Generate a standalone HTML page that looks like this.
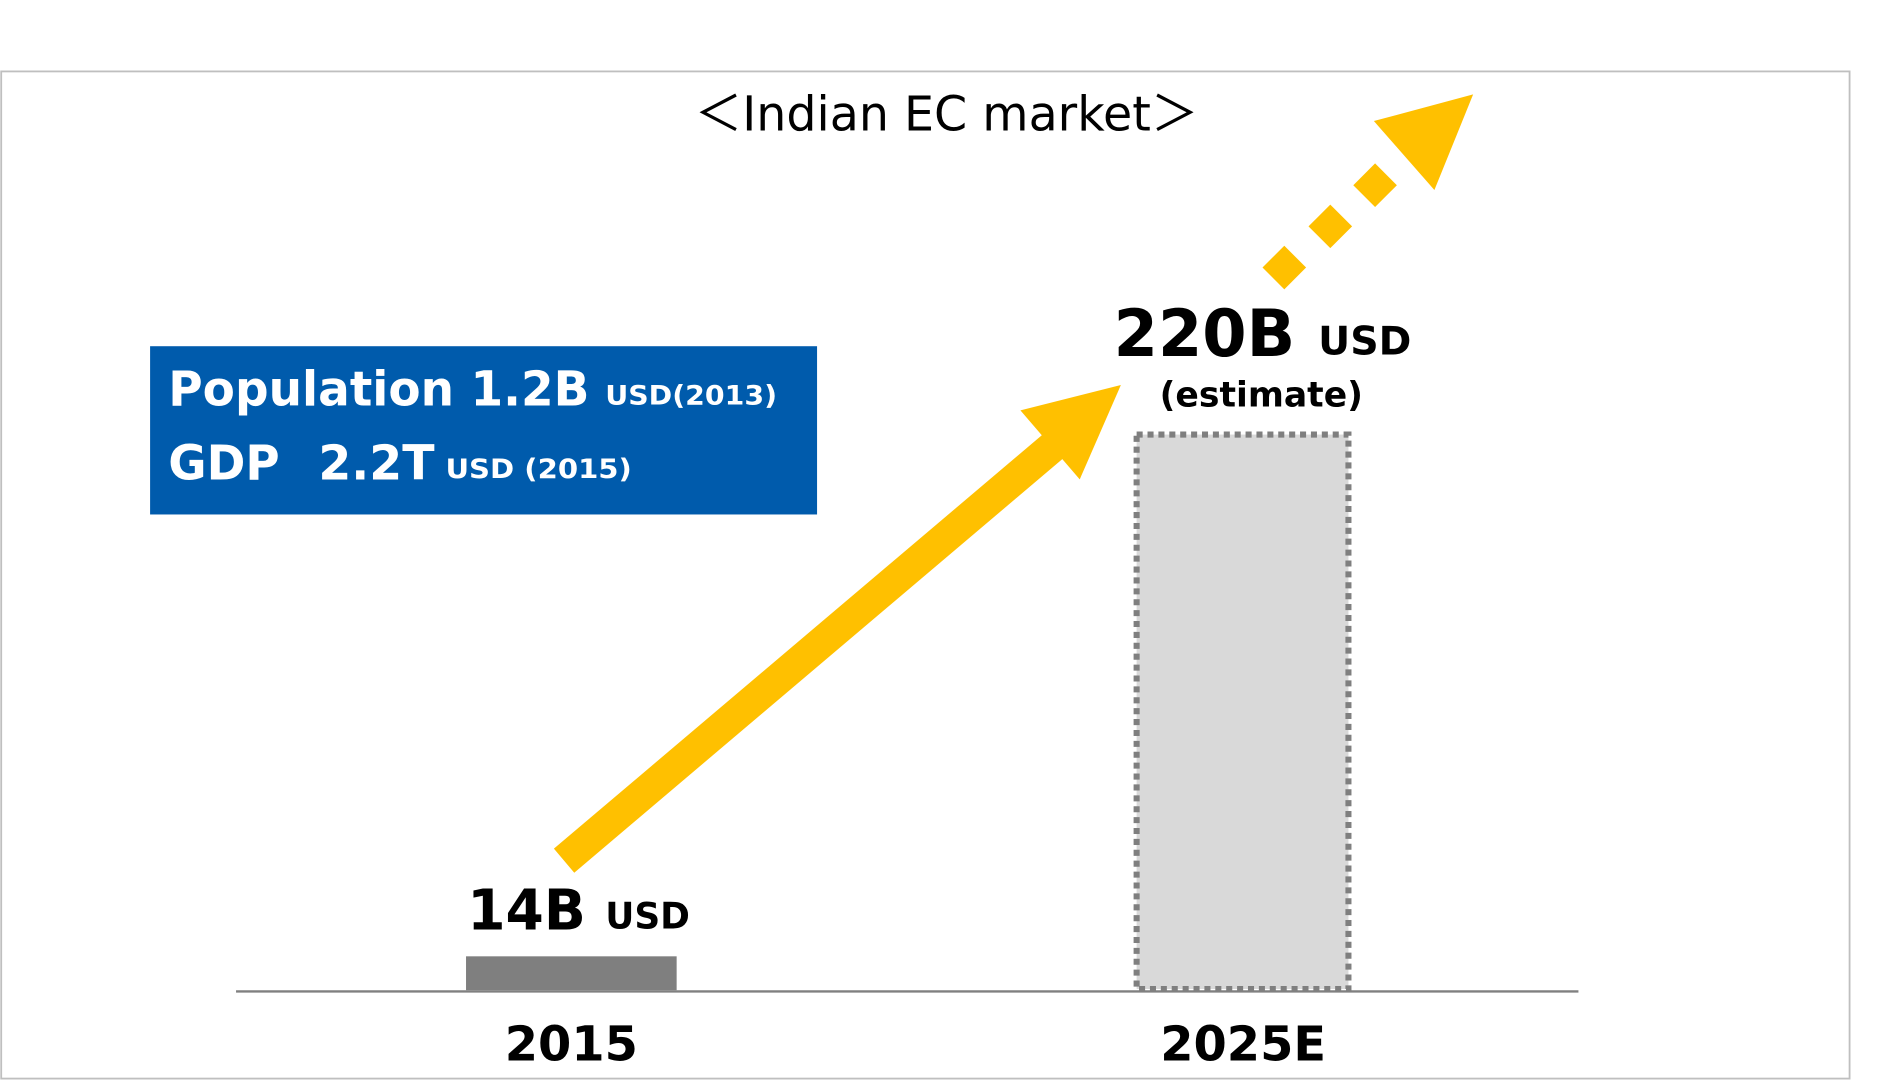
<!DOCTYPE html>
<html><head><meta charset="utf-8"><style>
html,body{margin:0;padding:0;background:#fff;}
svg{display:block;}
text{font-family:"DejaVu Sans","Liberation Sans",sans-serif;}
</style></head><body>
<svg width="1898" height="1081" viewBox="0 0 1568 893" preserveAspectRatio="none" xmlns="http://www.w3.org/2000/svg">
<rect x="1" y="59" width="1527" height="832" fill="#fff" stroke="#bfbfbf" stroke-width="1.5"/>
<text x="782" y="108" font-size="40" text-anchor="middle" fill="#000" textLength="416" lengthAdjust="spacingAndGlyphs">＜Indian EC market＞</text>
<rect x="124" y="286" width="551" height="139" fill="#005bac"/>
<text x="139" y="335" font-size="40" font-weight="bold" fill="#fff" textLength="348" lengthAdjust="spacingAndGlyphs">Population 1.2B</text>
<text x="500" y="334" font-size="22" font-weight="bold" fill="#fff" textLength="142" lengthAdjust="spacingAndGlyphs">USD(2013)</text>
<text x="139" y="396" font-size="40" font-weight="bold" fill="#fff" textLength="92" lengthAdjust="spacingAndGlyphs">GDP</text>
<text x="263" y="396" font-size="40" font-weight="bold" fill="#fff" textLength="96" lengthAdjust="spacingAndGlyphs">2.2T</text>
<text x="368" y="395" font-size="22" font-weight="bold" fill="#fff" textLength="154" lengthAdjust="spacingAndGlyphs">USD (2015)</text>
<line x1="466" y1="711" x2="872" y2="367" stroke="#ffc000" stroke-width="26"/>
<polygon points="843,339 926,318 892,396" fill="#ffc000"/>
<polygon points="1061,203 1079,221 1061,239 1043,221" fill="#ffc000"/>
<polygon points="1099,169 1117,187 1099,205 1081,187" fill="#ffc000"/>
<polygon points="1136,135 1154,153 1136,171 1118,153" fill="#ffc000"/>
<polygon points="1135,100 1217,78 1185,157" fill="#ffc000"/>
<text x="920" y="294" font-size="54" font-weight="bold" fill="#000" textLength="150" lengthAdjust="spacingAndGlyphs">220B</text>
<text x="1089" y="293" font-size="32" font-weight="bold" fill="#000" textLength="77" lengthAdjust="spacingAndGlyphs">USD</text>
<text x="1042" y="336" font-size="29" font-weight="bold" fill="#000" text-anchor="middle" textLength="168" lengthAdjust="spacingAndGlyphs">(estimate)</text>
<rect x="939" y="359" width="175" height="458" fill="#d9d9d9" stroke="#7f7f7f" stroke-width="5" stroke-dasharray="5,4"/>
<rect x="385" y="790" width="174" height="28" fill="#7f7f7f"/>
<line x1="195" y1="819" x2="1304" y2="819" stroke="#808080" stroke-width="2"/>
<text x="386" y="768" font-size="46" font-weight="bold" fill="#000" textLength="98" lengthAdjust="spacingAndGlyphs">14B</text>
<text x="500" y="767" font-size="30" font-weight="bold" fill="#000" textLength="70" lengthAdjust="spacingAndGlyphs">USD</text>
<text x="472" y="876" font-size="40" font-weight="bold" fill="#000" text-anchor="middle" textLength="110" lengthAdjust="spacingAndGlyphs">2015</text>
<text x="1027" y="876" font-size="40" font-weight="bold" fill="#000" text-anchor="middle" textLength="137" lengthAdjust="spacingAndGlyphs">2025E</text>
</svg>
</body></html>
